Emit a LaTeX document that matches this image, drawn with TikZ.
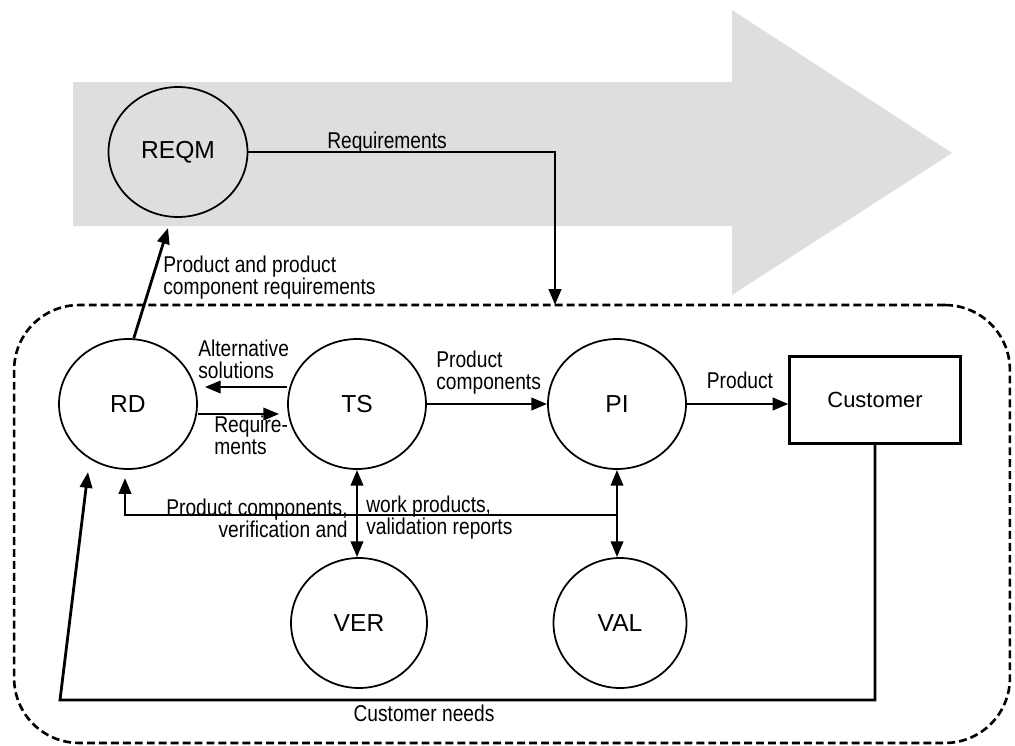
\documentclass[tikz,border=0pt]{standalone}
\usepackage{fontspec}
\setmainfont{Liberation Sans}
\newfontfamily\lblfont{Liberation Sans}[FakeStretch=0.84]
\usetikzlibrary{shapes.geometric,arrows.meta,calc}
\definecolor{bandgray}{RGB}{222,222,222}
\tikzset{
 proc/.style={ellipse, draw, line width=1pt, minimum width=2.76cm, minimum height=2.6cm, inner sep=0pt, font=\fontsize{14}{16}\selectfont},
 lbl/.style={font=\lblfont\fontsize{13}{12.5}\selectfont, inner sep=0pt},
 conn/.style={line width=1.6pt},
 arr/.style={conn, -{Triangle[length=9pt,width=7pt]}},
 darr/.style={conn, {Triangle[length=9pt,width=7pt]}-{Triangle[length=9pt,width=7pt]}},
 sysbox/.style={draw, line width=1.5pt, dash pattern=on 4.5pt off 2.3pt, rounded corners=1.3cm, minimum width=19.92cm, minimum height=8.76cm, inner sep=0pt},
 custbox/.style={draw, line width=1.2pt, minimum width=3.42cm, minimum height=1.74cm, inner sep=0pt, font=\fontsize{12.5}{14}\selectfont}
}
\begin{document}
\begin{tikzpicture}[x=0.02cm,y=-0.02cm]
\useasboundingbox (0,0) rectangle (1015,745);
% grey band arrow
\fill[bandgray] (73,82) -- (732,82) -- (732,10) -- (952,153) -- (732,295) -- (732,226) -- (73,226) -- cycle;
% dashed system boundary
\node[sysbox] (sys) at (512,524) {};
% process nodes
\node[proc, minimum width=2.78cm] (REQM) at (178,152) {REQM};
\node[proc] (RD) at (128,404) {RD};
\node[proc] (TS) at (357,404) {TS};
\node[proc] (PI) at (617,404) {PI};
\node[proc, minimum width=2.72cm] (VER) at (359,623) {VER};
\node[proc, minimum width=2.66cm] (VAL) at (620,623) {VAL};
\node[custbox] (Cust) at (875,400) {Customer};
% coordinates for free ends
\coordinate (reqin) at (555,305);
\coordinate (reqtip) at (168,228);
\coordinate (cnl) at (60,700);
\coordinate (cntip) at (88,472);
\coordinate (fbR) at (617,515);
\coordinate (rdtip) at (125,478);
% connectors
\draw[arr] (REQM.east) -| (reqin);
\draw[arr] (RD.85) -- (reqtip);
\draw[arr] ($(TS.west)+(0,-17)$) -- ($(RD.east)+(7,-17)$);
\draw[arr] ($(RD.east)+(0,10)$) -- ($(TS.west)+(-8,10)$);
\draw[arr] (TS.east) -- (PI.west);
\draw[arr] (PI.east) -- (PI.east -| Cust.west);
\draw[arr] (Cust.south) |- (cnl) -- (cntip);
\draw[arr] (PI.south |- fbR) -| (rdtip);
\draw[darr] (TS.south) -- (TS.south |- VER.north);
\draw[darr] (PI.south) -- (PI.south |- VAL.north);
% labels
\node[lbl, anchor=base] (lreq) at (387,148) {Requirements};
\node[lbl, anchor=west, align=left] (lpcr) at (163,278) {Product and product\\component requirements};
\node[lbl, anchor=west, align=left] (lalt) at (198,359) {Alternative\\solutions};
\node[lbl, anchor=west, align=left] (lreq2) at (214,435) {Require-\\ments};
\node[lbl, anchor=west, align=left] (lpc) at (436,373) {Product\\components};
\node[lbl] (lprod) at (740,380) {Product};
\node[lbl, anchor=east, align=right] (lfb1) at (348,518) {Product components,\\verification and};
\node[lbl, anchor=west, align=left] (lfb2) at (366,518) {work products,\\validation reports};
\node[lbl] (lcn) at (424,713) {Customer needs};
\end{tikzpicture}
\end{document}
